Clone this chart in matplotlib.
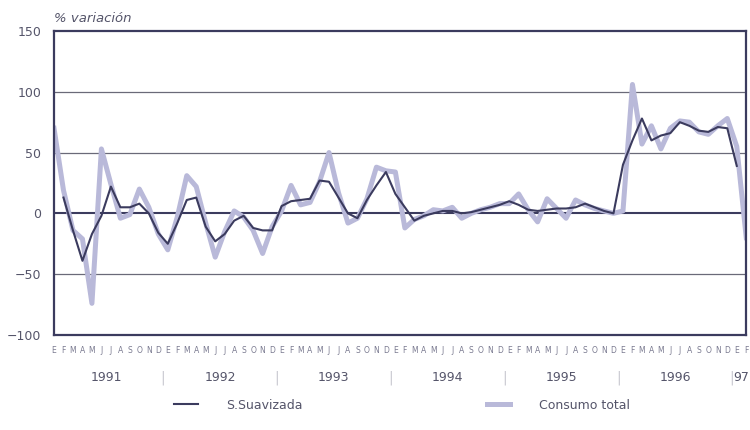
import numpy as np
import matplotlib
matplotlib.use('Agg')
import matplotlib.pyplot as plt
from matplotlib.lines import Line2D

# monthly data, Jan 1991 .. Feb 1997
month_letters = list('EFMAMJJASOND') * 6 + ['E', 'F']
years = ['1991', '1992', '1993', '1994', '1995', '1996', '97']

consumo_total = [
    70, 19, -14, -21, -74, 53, 24, -4, -1, 20, 5, -17,      # 1991
    -30, -3, 31, 22, -8, -36, -15, 2, -3, -14, -33, -11,    # 1992
    2, 23, 7, 9, 26, 50, 17, -8, -4, 12, 38, 35,            # 1993
    34, -12, -5, -2, 3, 2, 5, -4, 0, 3, 5, 8,               # 1994
    8, 16, 3, -7, 12, 4, -4, 11, 7, 4, 2, 0,                # 1995
    2, 106, 57, 72, 53, 70, 76, 75, 67, 65, 72, 78,         # 1996
    55, -20,                                                # 1997
]
s_suavizada = [
    np.nan, 13, -14, -39, -17, -2, 22, 5, 5, 8, 0, -16,
    -25, -8, 11, 13, -11, -23, -17, -6, -2, -12, -14, -14,
    6, 10, 11, 12, 27, 26, 13, 0, -4, 11, 23, 34,
    16, 5, -6, -2, 0, 2, 2, 0, 1, 3, 5, 7,
    10, 7, 3, 2, 3, 4, 4, 5, 8, 5, 2, 0,
    40, 60, 78, 60, 64, 66, 75, 72, 68, 67, 71, 70,
    39, np.nan,
]

dark = '#3b3b5e'
light = '#b9b9d9'
txt = '#55556a'

fig = plt.figure(figsize=(7.5, 4.3), dpi=100)
ax = fig.add_axes([0.072, 0.221, 0.923, 0.707])

x = np.arange(len(consumo_total))
ax.plot(x, consumo_total, color=light, lw=3.6, solid_joinstyle='round', zorder=2)
ax.plot(x, s_suavizada, color=dark, lw=1.5, zorder=3)

for v in (100, 50, -50):
    ax.axhline(v, color='#6a6a78', lw=0.9, zorder=1)
ax.axhline(0, color=dark, lw=1.5, zorder=1)

ax.set_xlim(0, len(x) - 1)
ax.set_ylim(-100, 150)
ax.set_yticks([-100, -50, 0, 50, 100, 150])
ax.tick_params(axis='y', length=0, pad=9, labelsize=9, labelcolor=txt)
ax.set_xticks(x)
ax.set_xticklabels(month_letters)
ax.tick_params(axis='x', length=0, pad=8, labelsize=5.5, labelcolor='#7a7a90')
for s in ax.spines.values():
    s.set_color(dark)
    s.set_linewidth(1.6)

ax.text(0, 1.02, '% variación', transform=ax.transAxes, fontsize=9.5,
        style='italic', color=txt, ha='left', va='bottom')

# year labels under the month letters
tr = ax.get_xaxis_transform()
for i, y in enumerate(years):
    if y == '97':
        ax.text(72.5, -0.14, y, transform=tr, ha='center', va='center',
                fontsize=9, color=txt)
    else:
        ax.text(12 * i + 5.5, -0.14, y, transform=tr, ha='center', va='center',
                fontsize=9, color=txt)
    if i > 0:
        pos = 12 * i - 0.5
        ax.text(pos, -0.14, '|', transform=tr, ha='center', va='center',
                fontsize=10, color='#c8c8d0')

handles = [Line2D([], [], color=dark, lw=1.5),
           Line2D([], [], color=light, lw=3.6)]
fig.legend(handles, ['S.Suavizada', 'Consumo total'], loc='center',
           bbox_to_anchor=(0.536, 0.058), ncol=2, frameon=False,
           handlelength=1.9, handletextpad=2.3, columnspacing=14.7,
           prop={'size': 9}, labelcolor=txt)

fig.savefig('out.png', dpi=100, facecolor='white')
